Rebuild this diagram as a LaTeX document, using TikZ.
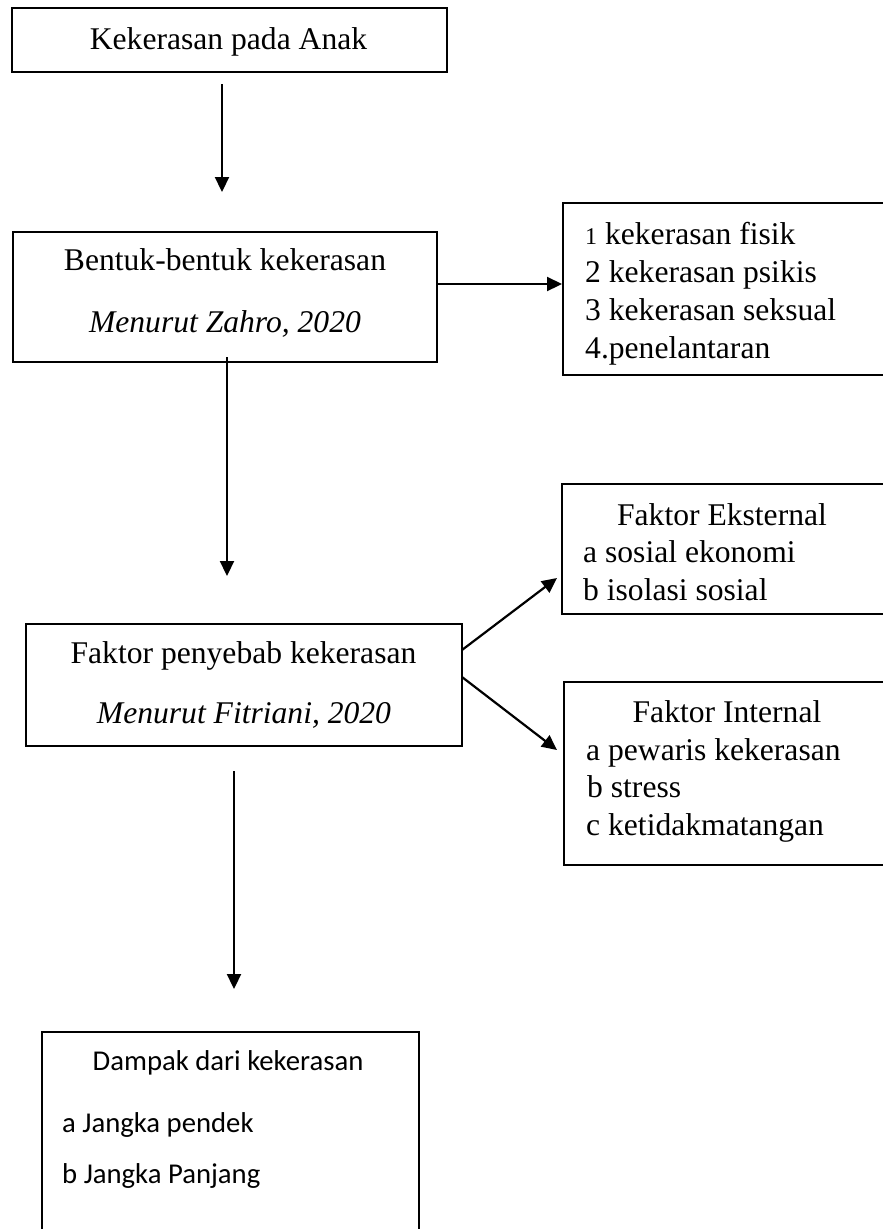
\documentclass[tikz,border=0pt]{standalone}
\usepackage{fontspec}
\setmainfont{Liberation Serif}
\newfontfamily\calibrifont{Carlito}
\usetikzlibrary{arrows.meta}
\begin{document}
\begin{tikzpicture}[x=1pt,y=-1pt,
  box/.style={draw, line width=2.4pt, inner sep=0pt, rectangle},
  conn/.style={line width=2.2pt, -{Triangle[length=15pt,width=14pt]}},
  txt/.style={inner sep=0pt, font=\fontsize{31.6}{38}\selectfont},
  ltxt/.style={txt, anchor=base west},
  ctxt/.style={txt, anchor=base},
  stxt/.style={inner sep=0pt, font=\calibrifont\fontsize{28.7}{34}\selectfont},
  ]
\useasboundingbox (0,0) rectangle (883,1229);
\clip (0,0) rectangle (883,1229);
% boxes
\node[box, minimum width=435pt, minimum height=64pt] (b1) at (229.5,40) {};
\node[box, minimum width=424pt, minimum height=130pt] (b2) at (225,297) {};
\node[box, minimum width=357pt, minimum height=172pt] (bl) at (741.5,289) {};
\node[box, minimum width=436pt, minimum height=122pt] (b3) at (244,685) {};
\node[box, minimum width=358pt, minimum height=130pt] (be) at (741,549) {};
\node[box, minimum width=356pt, minimum height=183pt] (bi) at (742,773.5) {};
\node[box, minimum width=377pt, minimum height=228pt] (b4) at (230.5,1146) {};
% texts
\node[ctxt] (t1) at (228.5,49) {Kekerasan pada Anak};
\node[ctxt] (t2a) at (225,270) {Bentuk-bentuk kekerasan};
\node[ctxt] (t2b) at (225,332) {\itshape Menurut Zahro, 2020};
\node[ltxt] (l1) at (585,244) {{\fontsize{24}{30}\selectfont 1} kekerasan fisik};
\node[ltxt] (l2) at (585,282) {2 kekerasan psikis};
\node[ltxt] (l3) at (585,320) {3 kekerasan seksual};
\node[ltxt] (l4) at (585,358) {4.penelantaran};
\node[ctxt] (t3a) at (243.5,663) {Faktor penyebab kekerasan};
\node[ctxt] (t3b) at (244,723) {\itshape Menurut Fitriani, 2020};
\node[ctxt] (e0) at (722,525) {Faktor Eksternal};
\node[ltxt] (e1) at (583,562) {a sosial ekonomi};
\node[ltxt] (e2) at (583,600) {b isolasi sosial};
\node[ctxt] (i0) at (727,722) {Faktor Internal};
\node[ltxt] (i1) at (586,760) {a pewaris kekerasan};
\node[ltxt] (i2) at (587,797) {b stress};
\node[ltxt] (i3) at (586,835) {c ketidakmatangan};
\node[stxt, anchor=base] (d0) at (228,1070) {Dampak dari kekerasan};
\node[stxt, anchor=base west] (d1) at (62,1132) {a Jangka pendek};
\node[stxt, anchor=base west] (d2) at (62,1183) {b Jangka Panjang};
% connector end points
\coordinate (a1s) at (222,84);
\coordinate (a1e) at (222,192);
\coordinate (a2s) at (227,357);
\coordinate (a2e) at (227,576);
\coordinate (a3s) at (234,771);
\coordinate (a3e) at (234,989);
\coordinate (hs) at (437,284);
\coordinate (he) at (562,284);
\coordinate (u1s) at (462,650);
\coordinate (u1e) at (557,578);
\coordinate (u2s) at (462,677);
\coordinate (u2e) at (557,750);
% connectors
\draw[conn] (a1s) -- (a1e);
\draw[conn] (a2s) -- (a2e);
\draw[conn] (a3s) -- (a3e);
\draw[conn] (hs) -- (he);
\draw[conn] (u1s) -- (u1e);
\draw[conn] (u2s) -- (u2e);
\end{tikzpicture}
\end{document}
